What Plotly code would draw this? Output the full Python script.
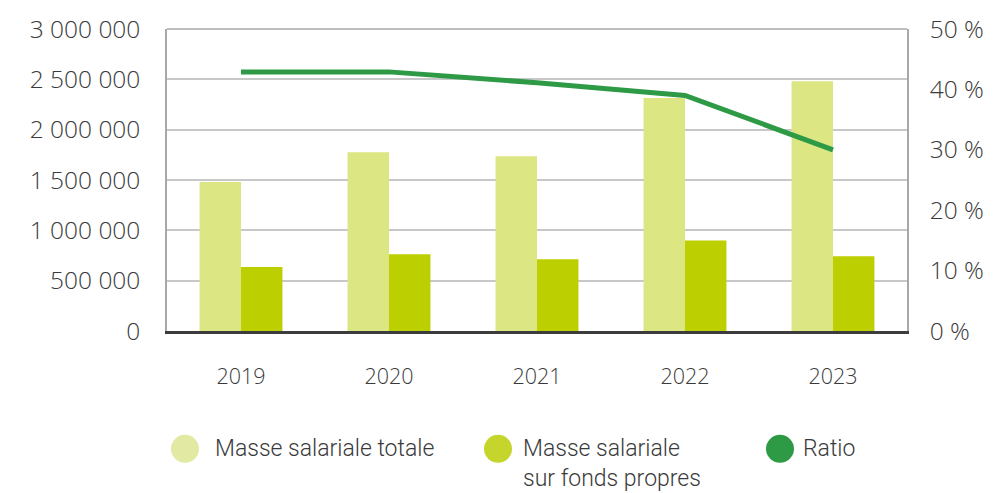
import plotly.graph_objects as go

years = ["2019", "2020", "2021", "2022", "2023"]
masse_totale = [1480000, 1775000, 1735000, 2315000, 2480000]
masse_fonds_propres = [635000, 762000, 713000, 900000, 743000]
ratio = [0.429, 0.429, 0.411, 0.390, 0.300]

y_tickvals = [0, 500000, 1000000, 1500000, 2000000, 2500000, 3000000]
y_ticktext = ["0", "500 000", "1 000 000", "1 500 000", "2 000 000", "2 500 000", "3 000 000"]
y2_tickvals = [0, 0.1, 0.2, 0.3, 0.4, 0.5]
y2_ticktext = ["0 %", "10 %", "20 %", "30 %", "40 %", "50 %"]

legend_labels = ["Masse salariale totale", "Masse salariale<br>sur fonds propres", "Ratio"]
legend_colors = ["#e2e9a3", "#c5d52b", "#2e9a46"]

C_LIGHT = "#dce682"
C_DARK = "#bccf00"
C_LINE = "#2e9a46"
TXT = "#3a3a3a"

fig = go.Figure()
fig.add_trace(go.Bar(x=years, y=masse_totale, marker=dict(color=C_LIGHT, line=dict(width=0)),
                     name=legend_labels[0], showlegend=False))
fig.add_trace(go.Bar(x=years, y=masse_fonds_propres, marker=dict(color=C_DARK, line=dict(width=0)),
                     name=legend_labels[1], showlegend=False))
fig.add_trace(go.Scatter(x=years, y=ratio, yaxis="y2", mode="lines",
                         line=dict(color=C_LINE, width=5), name="Ratio", showlegend=False))

tick_font = dict(family="Open Sans", size=24.5, color=TXT, weight=300)

fig.update_layout(
    width=1007, height=493,
    margin=dict(l=167, r=100, t=26, b=162),
    paper_bgcolor="white", plot_bgcolor="white",
    barmode="group", bargap=0.44, bargroupgap=0,
    font=dict(family="Open Sans", color=TXT),
    xaxis=dict(range=[-0.5, 4.5], showgrid=False, showline=True, linecolor="#3c3c3c", linewidth=2.5,
               ticks="", tickfont=dict(family="Open Sans", size=21.5, color=TXT, weight=300),
               ticklabelstandoff=24, mirror=False),
    yaxis=dict(range=[0, 3000000], tickvals=y_tickvals, ticktext=y_ticktext, showgrid=True,
               gridcolor="#c8c8c8", gridwidth=1.5, showline=True, linecolor="#a8a8a8", linewidth=1.5,
               ticks="", tickfont=tick_font, ticklabelstandoff=20, zeroline=False),
    yaxis2=dict(range=[0, 0.5], tickvals=y2_tickvals, ticktext=y2_ticktext, overlaying="y", side="right",
                showgrid=False, showline=True, linecolor="#a8a8a8", linewidth=1.5, ticks="",
                tickfont=tick_font, ticklabelstandoff=16, zeroline=False),
    shapes=[dict(type="line", xref="paper", yref="paper", x0=0, x1=1, y0=1, y1=1,
                 line=dict(color="#a8a8a8", width=1.5))],
)

# manual legend with circle markers
leg_x_px = [185, 498, 780]
text_x_px = [213, 521, 801]
leg_y_px = 450
plot_w = 1007 - 167 - 100
plot_h = 493 - 26 - 162
for i in range(3):
    xp = (leg_x_px[i] - 167) / plot_w
    yp = (493 - 162 - leg_y_px) / plot_h
    fig.add_shape(type="circle", xref="paper", yref="paper", xsizemode="pixel", ysizemode="pixel",
                  xanchor=xp, yanchor=yp, x0=-14, x1=14, y0=-14, y1=14,
                  fillcolor=legend_colors[i], line=dict(width=0))
    fig.add_annotation(xref="paper", yref="paper", x=(text_x_px[i] - 167) / plot_w, y=yp,
                       text=legend_labels[i], showarrow=False, xanchor="left", yanchor="top",
                       yshift=16, align="left",
                       font=dict(family="Roboto", size=23, color=TXT, weight=300))

fig.write_html("out.html")
